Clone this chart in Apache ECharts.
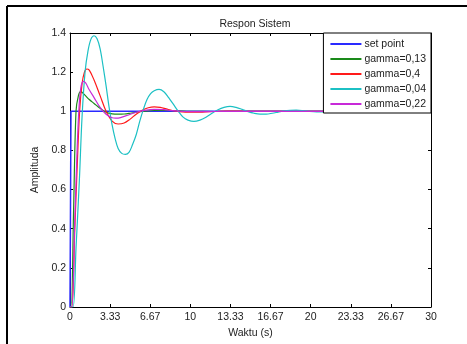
<!DOCTYPE html>
<html>
<head>
<meta charset="utf-8">
<script src="https://cdn.jsdelivr.net/npm/echarts@6/dist/echarts.min.js"></script>
<style>
html,body{margin:0;padding:0;background:#fff;}
#c{width:467px;height:344px;}
</style>
</head>
<body>
<div id="c"></div>
<script>
// ---- data ----
var seriesNames = ['set point', 'gamma=0,13', 'gamma=0,4', 'gamma=0,04', 'gamma=0,22'];

var setPointT = [0, 0.08, 0.08, 30];
var setPointV = [0, 0, 1, 1];

var gamma013T = [0, 0.1, 0.3, 0.5, 0.7, 0.9, 1.2, 1.6, 2.0, 2.5, 3.0, 3.5, 4.0, 4.5, 5.0, 5.5, 6.0, 7.0, 8.0, 9.0, 10, 12, 15, 30];
var gamma013V = [0, 0, 0.5, 1.0, 1.08, 1.10, 1.085, 1.06, 1.04, 1.015, 0.995, 0.987, 0.985, 0.986, 0.99, 0.995, 0.999, 1.004, 1.004, 1.002, 1.0, 0.999, 1.0, 1.0];

var gamma04T = [0, 0.15, 0.4, 0.6, 0.8, 1.0, 1.2, 1.4, 1.6, 2.0, 2.5, 3.0, 3.5, 4.0, 4.5, 5.0, 5.5, 6.0, 6.5, 7.0, 7.5, 8.0, 8.5, 9.0, 10, 11, 12, 13, 15, 30];
var gamma04V = [0, 0, 0.4, 0.72, 1.0, 1.14, 1.2, 1.216, 1.21, 1.16, 1.08, 1.0, 0.95, 0.935, 0.94, 0.96, 0.985, 1.005, 1.018, 1.023, 1.02, 1.012, 1.004, 0.999, 0.995, 0.996, 0.999, 1.001, 1.0, 1.0];

var gamma004T = [0, 0.25, 0.5, 0.78, 1.0, 1.25, 1.5, 1.75, 2.0, 2.25, 2.5, 2.75, 3.0, 3.25, 3.5, 3.75, 4.0, 4.3, 4.6, 4.9, 5.2, 5.5, 5.8, 6.1, 6.4, 6.7, 7.0, 7.4, 7.8, 8.2, 8.6, 9.0, 9.4, 9.8, 10.3, 10.8, 11.3, 11.8, 12.3, 12.8, 13.3, 13.8, 14.3, 14.8, 15.3, 15.8, 16.3, 16.8, 17.3, 17.8, 18.3, 18.8, 19.3, 19.8, 20.5, 21.3, 22, 23, 24, 25, 30];
var gamma004V = [0, 0, 0.3, 0.65, 0.97, 1.2, 1.31, 1.37, 1.386, 1.37, 1.32, 1.23, 1.13, 1.02, 0.93, 0.86, 0.81, 0.785, 0.78, 0.79, 0.83, 0.88, 0.95, 1.01, 1.06, 1.09, 1.105, 1.112, 1.1, 1.07, 1.035, 1.0, 0.97, 0.955, 0.948, 0.955, 0.97, 0.99, 1.008, 1.02, 1.025, 1.02, 1.01, 0.998, 0.99, 0.986, 0.986, 0.99, 0.996, 1.002, 1.005, 1.006, 1.004, 1.0, 0.997, 0.997, 0.999, 1.001, 1.001, 1.0, 1.0];

var gamma022T = [0, 0.15, 0.4, 0.6, 0.75, 0.9, 1.1, 1.3, 1.6, 2.0, 2.5, 3.0, 3.5, 3.8, 4.2, 4.8, 5.5, 6.2, 7.0, 7.8, 8.5, 9.5, 11, 13, 30];
var gamma022V = [0, 0, 0.45, 0.82, 1.02, 1.12, 1.153, 1.145, 1.11, 1.07, 1.02, 0.985, 0.967, 0.965, 0.968, 0.98, 0.995, 1.005, 1.01, 1.008, 1.003, 0.999, 0.998, 1.0, 1.0];

var xTickLabels = ['0', '3.33', '6.67', '10', '13.33', '16.67', '20', '23.33', '26.67', '30'];
var yTickLabels = ['0', '0.2', '0.4', '0.6', '0.8', '1', '1.2', '1.4'];

// ---- build chart ----
function pairs(t, v) { return t.map(function (x, i) { return [x, v[i]]; }); }
var colors = ['#2a2aff', '#1a8a1a', '#ff1a1a', '#1cc0c4', '#c829d8'];
var dataSets = [
  pairs(setPointT, setPointV),
  pairs(gamma013T, gamma013V),
  pairs(gamma04T, gamma04V),
  pairs(gamma004T, gamma004V),
  pairs(gamma022T, gamma022V)
];
var FONT = 'Liberation Sans, Arial, sans-serif';
var XINT = 10 / 3;

function xAxisCfg(pos, labels) {
  return {
    type: 'value', min: 0, max: 30, interval: XINT, position: pos,
    axisLine: { show: true, onZero: false, lineStyle: { color: '#000', width: 1 } },
    axisTick: { show: true, inside: true, length: 3, lineStyle: { color: '#000' } },
    axisLabel: labels ? {
      show: true, fontSize: 10.5, fontFamily: FONT, color: '#222', margin: 5,
      formatter: function (v) { return xTickLabels[Math.round(v / XINT)]; }
    } : { show: false },
    splitLine: { show: false }
  };
}
function yAxisCfg(pos, labels) {
  return {
    type: 'value', min: 0, max: 1.4, interval: 0.2, position: pos,
    axisLine: { show: true, onZero: false, lineStyle: { color: '#000', width: 1 } },
    axisTick: { show: true, inside: true, length: 3, lineStyle: { color: '#000' } },
    axisLabel: labels ? {
      show: true, fontSize: 10.5, fontFamily: FONT, color: '#222', margin: 4,
      formatter: function (v) { return yTickLabels[Math.round(v / 0.2)]; }
    } : { show: false },
    splitLine: { show: false }
  };
}

var xa0 = xAxisCfg('bottom', true);
xa0.name = 'Waktu (s)';
xa0.nameLocation = 'middle';
xa0.nameGap = 18;
xa0.nameTextStyle = { fontSize: 10.5, fontFamily: FONT, color: '#222' };
var ya0 = yAxisCfg('left', true);
ya0.name = 'Amplituda';
ya0.nameLocation = 'middle';
ya0.nameGap = 24;
ya0.nameTextStyle = { fontSize: 10.5, fontFamily: FONT, color: '#222' };

var chart = echarts.init(document.getElementById('c'), null, { renderer: 'canvas' });
chart.setOption({
  animation: false,
  backgroundColor: '#fff',
  title: {
    text: 'Respon Sistem', left: 250, top: 14, textAlign: 'center',
    textStyle: { fontSize: 10.5, fontWeight: 'normal', fontFamily: FONT, color: '#222' }
  },
  grid: { left: 70, right: 36, top: 33, bottom: 37, containLabel: false },
  xAxis: [xa0, xAxisCfg('top', false)],
  yAxis: [ya0, yAxisCfg('right', false)],
  legend: {
    orient: 'vertical', right: 36, top: 33,
    data: seriesNames,
    icon: 'rect', itemWidth: 31, itemHeight: 2, itemGap: 3,
    padding: [5, 5, 3, 7],
    backgroundColor: '#fff', borderColor: '#000', borderWidth: 1, borderRadius: 0,
    textStyle: { fontSize: 10.5, fontFamily: FONT, color: '#222', lineHeight: 12, padding: [0, 0, 0, -2] },
    selectedMode: false
  },
  graphic: [
    { type: 'line', shape: { x1: 7, y1: 6, x2: 467, y2: 6 }, style: { stroke: '#000', lineWidth: 2 }, silent: true },
    { type: 'line', shape: { x1: 7, y1: 6, x2: 7, y2: 344 }, style: { stroke: '#000', lineWidth: 2 }, silent: true }
  ],
  series: seriesNames.map(function (n, i) {
    return {
      name: n, type: 'line', xAxisIndex: 0, yAxisIndex: 0,
      data: dataSets[i], showSymbol: false, symbol: 'none',
      smooth: i === 0 ? false : 0.35,
      clip: true,
      color: colors[i],
      lineStyle: { color: colors[i], width: i === 0 ? 1.5 : 1.2 }
    };
  })
});
</script>
</body>
</html>
